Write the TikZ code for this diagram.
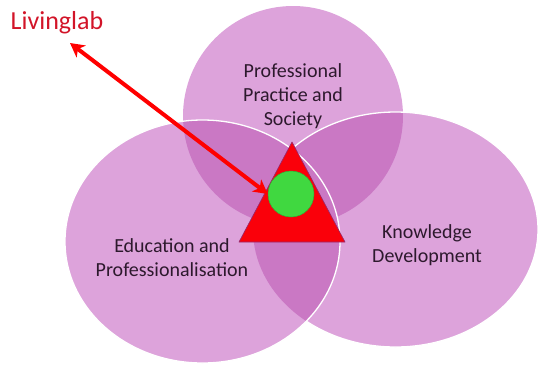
\documentclass[tikz,border=0pt]{standalone}
\usepackage{fontspec}
\setmainfont{Carlito}
\usetikzlibrary{arrows.meta}
\definecolor{plum}{RGB}{221,163,219}
\definecolor{plumdark}{RGB}{202,120,196}
\definecolor{txt}{RGB}{45,25,45}
\definecolor{labred}{RGB}{210,20,40}
\definecolor{trired}{RGB}{250,0,10}
\definecolor{trieddge}{RGB}{150,40,110}
\definecolor{grn}{RGB}{64,216,64}
\newcommand\topE{(293,116) ellipse [x radius=110pt, y radius=110pt]}
\newcommand\leftE{(202.5,241.5) ellipse [x radius=137.5pt, y radius=121.5pt]}
\newcommand\rightE{(395.5,229.5) ellipse [x radius=142.5pt, y radius=117.5pt]}
\begin{document}
\begin{tikzpicture}[x=1pt,y=-1pt,
  lbl/.style={font=\fontsize{20}{24}\selectfont, text=txt, align=center},
  rim/.style={draw=white, line width=1.3pt}]
\useasboundingbox (0,0) rectangle (538,365);
% circles
\fill[plum] \topE;
\fill[plum] \rightE;
\begin{scope}\clip \topE; \fill[plumdark] \rightE; \end{scope}
\path[rim] \rightE;
\fill[plum] \leftE;
\begin{scope}\clip \leftE; \fill[plumdark] \topE; \fill[plumdark] \rightE; \end{scope}
\path[rim] \leftE;
% labels
\node[lbl] (pps) at (293,96) {Professional\\Practice and\\Society};
\node[lbl] (edu) at (172,258) {Education and\\Professionalisation};
\node[lbl] (kd) at (427,245) {Knowledge\\Development};
% triangle and circle
\coordinate (ta) at (292,142);
\coordinate (tb) at (239,242);
\coordinate (tc) at (345,242);
\filldraw[fill=trired, draw=trieddge, line width=0.6pt, line join=round] (ta) -- (tb) -- (tc) -- cycle;
\node[circle, fill=grn, draw=grn!80!black, line width=0.5pt, minimum size=46pt, inner sep=0pt] (lab) at (291,194) {};
% livinglab
\node[font=\fontsize{26}{30}\selectfont, text=labred] (ll) at (57,23) {Livinglab};
\coordinate (ltip) at (70,43);
\draw[red, line width=4pt, {Stealth[length=14pt,width=15pt,inset=4pt]}-{Stealth[length=14pt,width=15pt,inset=4pt]}] (ltip) -- (lab.west);
\end{tikzpicture}
\end{document}
